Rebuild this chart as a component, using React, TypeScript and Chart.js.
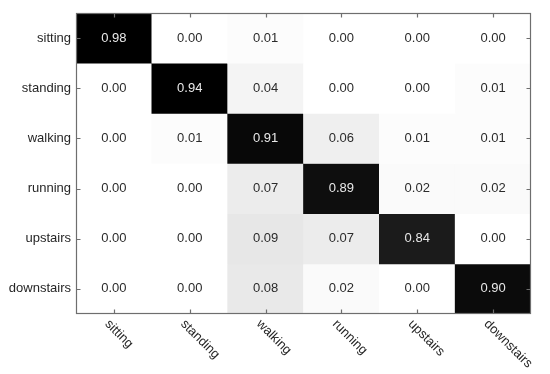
import React, { useEffect, useRef } from "react";
import { Chart, registerables } from "chart.js";
Chart.register(...registerables);

const classes = ["sitting", "standing", "walking", "running", "upstairs", "downstairs"];
const rowSitting = [0.98, 0.0, 0.01, 0.0, 0.0, 0.0];
const rowStanding = [0.0, 0.94, 0.04, 0.0, 0.0, 0.01];
const rowWalking = [0.0, 0.01, 0.91, 0.06, 0.01, 0.01];
const rowRunning = [0.0, 0.0, 0.07, 0.89, 0.02, 0.02];
const rowUpstairs = [0.0, 0.0, 0.09, 0.07, 0.84, 0.0];
const rowDownstairs = [0.0, 0.0, 0.08, 0.02, 0.0, 0.9];
const matrix = [rowSitting, rowStanding, rowWalking, rowRunning, rowUpstairs, rowDownstairs];

const FONT = '"Liberation Sans", Arial, Helvetica, sans-serif';
const AXIS_COLOR = "#6e6e6e";

function shade(v: number): string {
  const g = Math.max(0, Math.min(255, Math.round(255 * (1 - v / 0.94))));
  return `rgb(${g},${g},${g})`;
}

const overlayPlugin = {
  id: "overlay",
  afterDatasetsDraw(chart: any) {
    const { ctx, chartArea } = chart;
    const xs = chart.scales.x;
    const ys = chart.scales.y;
    ctx.save();
    // cell texts
    ctx.font = `13px ${FONT}`;
    ctx.textAlign = "center";
    ctx.textBaseline = "middle";
    matrix.forEach((row, r) => {
      row.forEach((v, c) => {
        ctx.fillStyle = v > 0.5 ? "#e8e8e8" : "#2b2b2b";
        ctx.fillText(v.toFixed(2), xs.getPixelForValue(c), ys.getPixelForValue(r + 0.5));
      });
    });
    // box
    ctx.strokeStyle = AXIS_COLOR;
    ctx.lineWidth = 1.2;
    const L = Math.round(chartArea.left) + 0.5;
    const R = Math.round(chartArea.right) - 0.5;
    const T = Math.round(chartArea.top) + 0.5;
    const B = Math.round(chartArea.bottom) - 0.5;
    ctx.strokeRect(L, T, R - L, B - T);
    // inner ticks
    const tl = 4;
    ctx.beginPath();
    classes.forEach((_, i) => {
      const x = Math.round(xs.getPixelForValue(i)) + 0.5;
      ctx.moveTo(x, T);
      ctx.lineTo(x, T + tl);
      ctx.moveTo(x, B);
      ctx.lineTo(x, B - tl);
      const y = Math.round(ys.getPixelForValue(i + 0.5)) + 0.5;
      ctx.moveTo(L, y);
      ctx.lineTo(L + tl, y);
      ctx.moveTo(R, y);
      ctx.lineTo(R - tl, y);
    });
    ctx.stroke();
    // rotated x labels
    ctx.fillStyle = "#262626";
    ctx.textAlign = "left";
    ctx.textBaseline = "middle";
    classes.forEach((lab, i) => {
      const x = xs.getPixelForValue(i);
      ctx.save();
      ctx.translate(x - 7, chartArea.bottom + 8);
      ctx.rotate(Math.PI / 4);
      ctx.fillText(lab, 0, 0);
      ctx.restore();
    });
    ctx.restore();
  },
};

export default function App() {
  const ref = useRef<HTMLCanvasElement | null>(null);
  useEffect(() => {
    if (!ref.current) return;
    const datasets = matrix.map((row, r) => ({
      label: classes[r],
      data: row.map(() => [r, r + 1]),
      backgroundColor: row.map((v) => shade(v)),
      borderWidth: 0,
      borderSkipped: false,
      grouped: false,
      barPercentage: 1,
      categoryPercentage: 1,
    }));
    const chart = new Chart(ref.current, {
      type: "bar",
      data: { labels: classes, datasets: datasets as any },
      plugins: [overlayPlugin],
      options: {
        responsive: false,
        animation: false,
        layout: { padding: { top: 13, right: 19, left: 0, bottom: 0 } },
        plugins: { legend: { display: false }, tooltip: { enabled: false } },
        scales: {
          x: {
            type: "category",
            offset: true,
            grid: { display: false, drawTicks: false },
            border: { display: false },
            ticks: { display: false },
            afterFit: (s: any) => {
              s.height = 60;
            },
          },
          y: {
            type: "linear",
            min: 0,
            max: 6,
            reverse: true,
            grid: { display: false, drawTicks: false },
            border: { display: false },
            afterBuildTicks: (s: any) => {
              s.ticks = classes.map((_, i) => ({ value: i + 0.5 }));
            },
            ticks: {
              padding: 5,
              color: "#262626",
              font: { family: FONT, size: 13 },
              callback: (v: any) => classes[Math.round(Number(v) - 0.5)],
            },
            afterFit: (s: any) => {
              s.width = 76;
            },
          },
        },
      },
    });
    return () => chart.destroy();
  }, []);
  return (
    <div style={{ position: "fixed", left: 0, top: 0, width: 550, height: 374, background: "#fff" }}>
      <canvas ref={ref} width={550} height={374} />
    </div>
  );
}
